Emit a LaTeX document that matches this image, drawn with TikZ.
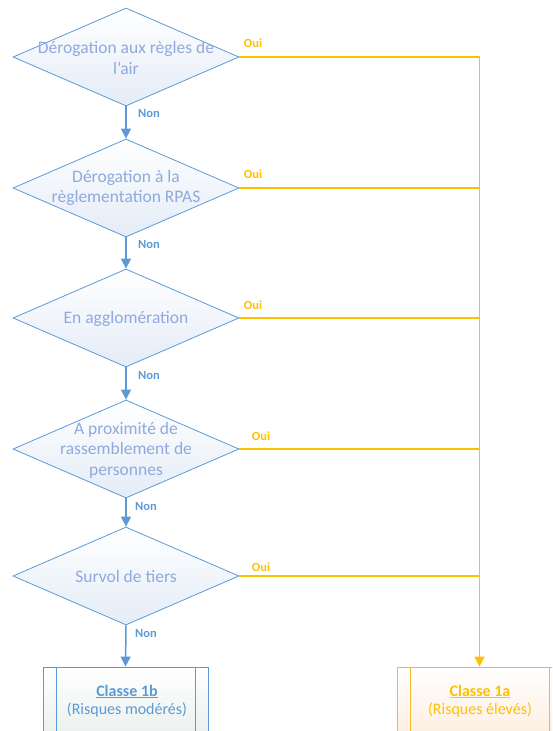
\documentclass[tikz,border=0pt]{standalone}
\usepackage{fontspec}
\setmainfont{Carlito}
\usetikzlibrary{shapes.geometric,arrows.meta}
\definecolor{bl}{RGB}{91,155,213}
\definecolor{bltxt}{RGB}{143,170,220}
\definecolor{dfill}{RGB}{228,236,247}
\definecolor{yl}{RGB}{255,192,0}
\definecolor{ylbox}{RGB}{246,185,40}
\definecolor{ylfill}{RGB}{253,236,220}
\definecolor{gfill}{RGB}{232,238,234}
\begin{document}
\begin{tikzpicture}[x=1pt,y=-1pt,
  dec/.style={diamond, draw=bl, line width=0.8pt, minimum width=226pt, minimum height=98pt, inner sep=0pt, top color=white, bottom color=dfill},
  txt/.style={text=bltxt, font=\fontsize{17.5}{20.5}\selectfont, align=center, inner sep=0pt},
  non/.style={text=bl, font=\bfseries\fontsize{12.5}{14}\selectfont, inner sep=0pt},
  oui/.style={text=yl, font=\bfseries\fontsize{12.5}{14}\selectfont, inner sep=0pt},
  flow/.style={draw=bl, line width=1.5pt, -{Triangle[length=10pt,width=10pt]}},
  yes/.style={draw=yl, line width=1.5pt},
  boxb/.style={rectangle, draw=bl, line width=0.8pt, minimum width=165pt, minimum height=80pt, inner sep=0pt, top color=white, bottom color=gfill},
  boxa/.style={rectangle, draw=ylbox, line width=0.8pt, minimum width=165pt, minimum height=80pt, inner sep=0pt, top color=white, bottom color=ylfill},
  clsb/.style={text=bl, font=\fontsize{16}{18.5}\selectfont, align=center, inner sep=0pt},
  clsa/.style={text=yl, font=\fontsize{16}{18.5}\selectfont, align=center, inner sep=0pt}
]
\useasboundingbox (0,0) rectangle (552,731);
\clip (0,0) rectangle (552,731);

% decisions
\node[dec] (d1) at (126,57) {};
\node[dec] (d2) at (126,188) {};
\node[dec] (d3) at (126,318) {};
\node[dec] (d4) at (126,449) {};
\node[dec] (d5) at (126,576) {};

\node[txt] (t1) at (126,58) {Dérogation aux règles de\\l’air};
\node[txt] (t2) at (126,188) {Dérogation à la\\règlementation RPAS};
\node[txt] (t3) at (126,319) {En agglomération};
\node[txt] (t4) at (126,450) {A proximité de\\rassemblement de\\personnes};
\node[txt] (t5) at (126,576) {Survol de tiers};

% result boxes
\node[boxb] (b1) at (125.5,707) {};
\draw[bl, line width=0.8pt] ([xshift=14pt]b1.north west) -- ([xshift=14pt]b1.south west);
\draw[bl, line width=0.8pt] ([xshift=-13pt]b1.north east) -- ([xshift=-13pt]b1.south east);
\node[boxa] (b2) at (479.5,707) {};
\draw[ylbox, line width=0.8pt] ([xshift=14pt]b2.north west) -- ([xshift=14pt]b2.south west);
\draw[ylbox, line width=0.8pt] ([xshift=-13pt]b2.north east) -- ([xshift=-13pt]b2.south east);

\node[clsb] (l1) at (127,701) {\underline{\textbf{Classe 1b}}\\(Risques modérés)};
\node[clsa] (l2) at (480,701) {\underline{\textbf{Classe 1a}}\\(Risques élevés)};

% non connectors
\draw[flow] (d1.south) -- (d2.north);
\draw[flow] (d2.south) -- (d3.north);
\draw[flow] (d3.south) -- (d4.north);
\draw[flow] (d4.south) -- (d5.north);
\draw[flow] (d5.south) -- (b1.north);

% oui connectors
\draw[yes, -{Triangle[length=10pt,width=10pt]}] (d1.east) -| (b2.north);
\draw[yes] (d2.east) -- (d2.east -| b2.north);
\draw[yes] (d3.east) -- (d3.east -| b2.north);
\draw[yes] (d4.east) -- (d4.east -| b2.north);
\draw[yes] (d5.east) -- (d5.east -| b2.north);

% labels
\node[non] (n1) at (149,113) {Non};
\node[non] (n2) at (149,244) {Non};
\node[non] (n3) at (149,375) {Non};
\node[non] (n4) at (146,506) {Non};
\node[non] (n5) at (146,633) {Non};
\node[oui] (o1) at (253,43) {Oui};
\node[oui] (o2) at (253,174) {Oui};
\node[oui] (o3) at (253,305) {Oui};
\node[oui] (o4) at (261,436) {Oui};
\node[oui] (o5) at (261,567) {Oui};
\end{tikzpicture}
\end{document}
